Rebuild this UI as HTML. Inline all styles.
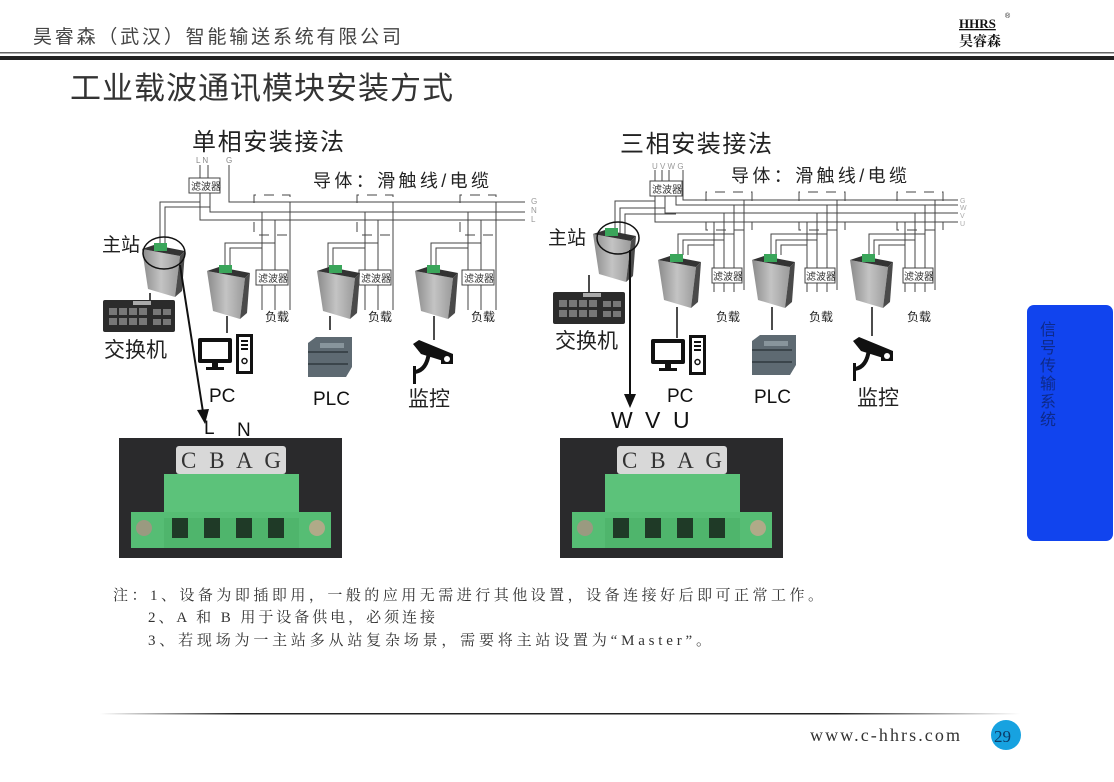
<!DOCTYPE html>
<html><head><meta charset="utf-8"><style>
html,body{margin:0;padding:0;background:#fff;width:1114px;height:782px;overflow:hidden}
svg{display:block}
text{font-family:"Liberation Sans","Noto Sans CJK SC",sans-serif}
.s{font-family:"Liberation Serif","Noto Serif CJK SC",serif}
</style></head><body>
<svg width="1114" height="782" viewBox="0 0 1114 782" xmlns="http://www.w3.org/2000/svg">
<defs>
<linearGradient id="gm" x1="0" x2="1" y1="0" y2="0"><stop offset="0" stop-color="#8a8a8a"/><stop offset="0.5" stop-color="#c4c4c4"/><stop offset="1" stop-color="#9a9a9a"/></linearGradient>
<linearGradient id="fl" x1="0" x2="1"><stop offset="0" stop-color="#fff"/><stop offset="0.15" stop-color="#222"/><stop offset="0.8" stop-color="#222"/><stop offset="1" stop-color="#fff"/></linearGradient>
<g id="dev">
<polygon points="0,6 38,13 33,54 6,46" fill="url(#gm)"/>
<polygon points="0,6 12,2 43,8 38,13" fill="#333"/>
<polygon points="38,13 43,8 40,48 33,54" fill="#4a4a4a"/>
<rect x="12" y="0" width="13" height="8" fill="#3aa55a"/>
</g>
<g id="photo">
<rect x="0" y="0" width="223" height="120" fill="#2a2a2c"/>
<rect x="57" y="8" width="110" height="28" rx="3" fill="#d8d8d8"/>
<text class="s" x="62" y="30" font-size="23" fill="#333" textLength="100">C B A G</text>
<rect x="45" y="36" width="135" height="44" fill="#5cc27a"/>
<rect x="12" y="74" width="200" height="36" fill="#56bd74"/>
<rect x="45" y="80" width="135" height="30" fill="#4fb56c"/>
<circle cx="25" cy="90" r="8" fill="#9a9a80"/><circle cx="198" cy="90" r="8" fill="#b0aa88"/>
<rect x="53" y="80" width="16" height="20" fill="#1f3a27"/><rect x="85" y="80" width="16" height="20" fill="#1f3a27"/>
<rect x="117" y="80" width="16" height="20" fill="#1f3a27"/><rect x="149" y="80" width="16" height="20" fill="#1f3a27"/>
</g>
<g id="sw">
<rect x="0" y="0" width="72" height="32" rx="2" fill="#2b2b2b"/>
<rect x="30" y="1" width="18" height="4" fill="#aaa"/>
<g fill="#777"><rect x="6" y="8" width="8" height="7"/><rect x="16" y="8" width="8" height="7"/><rect x="26" y="8" width="8" height="7"/><rect x="36" y="8" width="8" height="7"/><rect x="6" y="18" width="8" height="7"/><rect x="16" y="18" width="8" height="7"/><rect x="26" y="18" width="8" height="7"/><rect x="36" y="18" width="8" height="7"/><rect x="50" y="9" width="8" height="6"/><rect x="60" y="9" width="8" height="6"/><rect x="50" y="19" width="8" height="6"/><rect x="60" y="19" width="8" height="6"/></g>
</g>
<g id="pc">
<rect x="0" y="4" width="34" height="25" rx="2" fill="#111"/><rect x="4" y="8" width="26" height="17" fill="#fff"/>
<rect x="14" y="29" width="6" height="5" fill="#111"/><rect x="8" y="33" width="18" height="3" fill="#111"/>
<rect x="38" y="0" width="17" height="40" fill="#111"/><rect x="41" y="3" width="11" height="34" fill="#fff"/>
<g fill="#111"><rect x="43" y="6" width="7" height="2"/><rect x="43" y="10" width="7" height="2"/><rect x="43" y="14" width="7" height="2"/></g>
<circle cx="46.5" cy="27" r="2.5" fill="none" stroke="#111" stroke-width="1.5"/>
</g>
<g id="plc">
<polygon points="0,6 8,0 44,0 44,30 38,40 0,40" fill="#5e6a72"/>
<rect x="0" y="14" width="40" height="2" fill="#3b454b"/><rect x="0" y="26" width="40" height="2" fill="#3b454b"/>
<rect x="12" y="6" width="24" height="5" fill="#88959c"/>
</g>
<g id="cam">
<polygon points="0,4 6,0 40,14 40,24 8,14" fill="#111"/>
<rect x="28" y="14" width="12" height="10" fill="#111"/><circle cx="34" cy="19" r="3" fill="#fff"/>
<path d="M16 12 Q14 30 2 32" fill="none" stroke="#111" stroke-width="4"/>
<rect x="0" y="26" width="3" height="18" fill="#111"/>
</g>
</defs>

<!-- header -->
<text x="33" y="43" font-size="19" fill="#444" textLength="368">昊睿森（武汉）智能输送系统有限公司</text>
<text class="s" x="959" y="28" font-size="13" font-weight="bold" fill="#111" text-decoration="underline">HHRS</text>
<text x="1005" y="18" font-size="7" fill="#111">®</text>
<text class="s" x="959" y="46" font-size="14" font-weight="bold" fill="#111">昊睿森</text>
<rect x="0" y="52" width="1114" height="1.5" fill="#666"/>
<rect x="0" y="56" width="1114" height="4" fill="#222"/>
<text x="70" y="99" font-size="31" fill="#333" textLength="383">工业载波通讯模块安装方式</text>

<!-- LEFT DIAGRAM -->
<g fill="none" stroke="#444" stroke-width="1">
<text x="192" y="150" font-size="24" fill="#222" stroke="none" textLength="152">单相安装接法</text>
<text x="196" y="163" font-size="8" fill="#888" stroke="none">L N</text>
<text x="226" y="163" font-size="8" fill="#888" stroke="none">G</text>
<text x="313" y="187" font-size="18" fill="#222" stroke="none" textLength="176">导体：滑触线/电缆</text>
<line x1="200" y1="165" x2="200" y2="178"/><line x1="208" y1="165" x2="208" y2="178"/>
<polyline points="229,165 229,202 525,202"/>
<rect x="189" y="178" width="31" height="15" fill="#fff"/>
<text x="191" y="190" font-size="10" fill="#333" stroke="none">滤波器</text>
<polyline points="210,193 210,212 525,212"/>
<polyline points="200,193 200,220 525,220"/>
<polyline points="160,245 160,202 200,202"/>
<polyline points="165,245 165,207 210,207"/>
<text x="531" y="204" font-size="8" fill="#999" stroke="none">G</text>
<text x="531" y="213" font-size="8" fill="#999" stroke="none">N</text>
<text x="531" y="222" font-size="8" fill="#999" stroke="none">L</text>
<!-- groups -->
<g id="gl">
<polyline points="254,203 254,195 290,195 290,203" stroke-dasharray="10,8"/>
<polyline points="254,222 254,235 290,235 290,222" stroke-dasharray="10,8"/>
<line x1="262" y1="212" x2="262" y2="270"/><line x1="275" y1="220" x2="275" y2="270"/><line x1="290" y1="202" x2="290" y2="310"/>
<polyline points="225,268 225,243 275,243"/><polyline points="230,268 230,248 262,248"/>
<rect x="256" y="270" width="32" height="15" fill="#fff"/>
<text x="258" y="282" font-size="10" fill="#333" stroke="none">滤波器</text>
<line x1="262" y1="285" x2="262" y2="310"/><line x1="275" y1="285" x2="275" y2="310"/>
<text x="265" y="321" font-size="12" fill="#222" stroke="none">负载</text>
</g>
<use href="#gl" x="103"/><use href="#gl" x="206"/>
</g>
<text x="102" y="251" font-size="19" fill="#222">主站</text>
<use href="#dev" x="142" y="243"/>
<ellipse cx="164" cy="253" rx="21" ry="16" fill="none" stroke="#111" stroke-width="1.5"/>
<line x1="150" y1="293" x2="150" y2="302" stroke="#111" stroke-width="1.5"/>
<use href="#sw" x="103" y="300"/>
<text x="104" y="357" font-size="21" fill="#222">交换机</text>
<line x1="180" y1="265" x2="203" y2="412" stroke="#111" stroke-width="2"/>
<polygon points="197,410 209,409 205,424" fill="#111"/>
<use href="#dev" x="207" y="265"/><use href="#dev" x="317" y="265"/><use href="#dev" x="415" y="265"/>
<line x1="227" y1="316" x2="227" y2="333" stroke="#111" stroke-width="1.5"/>
<line x1="330" y1="316" x2="330" y2="330" stroke="#111" stroke-width="1.5"/>
<line x1="434" y1="316" x2="434" y2="340" stroke="#111" stroke-width="1.5"/>
<use href="#pc" x="198" y="334"/>
<use href="#plc" x="308" y="337"/>
<use href="#cam" x="413" y="340"/>
<text x="209" y="402" font-size="19" fill="#111">PC</text>
<text x="313" y="405" font-size="19" fill="#111">PLC</text>
<text x="408" y="406" font-size="21" fill="#222">监控</text>
<text x="204" y="434" font-size="19" fill="#111">L</text>
<text x="237" y="436" font-size="19" fill="#111">N</text>
<use href="#photo" x="119" y="438"/>

<!-- RIGHT DIAGRAM -->
<g fill="none" stroke="#444" stroke-width="1">
<text x="620" y="152" font-size="24" fill="#222" stroke="none" textLength="152">三相安装接法</text>
<text x="652" y="169" font-size="8" fill="#999" stroke="none">U V W G</text>
<text x="731" y="182" font-size="18" fill="#222" stroke="none" textLength="176">导体：滑触线/电缆</text>
<line x1="655" y1="170" x2="655" y2="181"/><line x1="662" y1="170" x2="662" y2="181"/><line x1="669" y1="170" x2="669" y2="181"/>
<polyline points="683,170 683,200 958,200"/>
<rect x="650" y="181" width="32" height="15" fill="#fff"/>
<text x="652" y="193" font-size="10" fill="#333" stroke="none">滤波器</text>
<polyline points="676,196 676,205 958,205"/>
<polyline points="665,196 665,213 958,213"/>
<polyline points="655,196 655,222 958,222"/>
<polyline points="615,236 615,201 655,201"/>
<polyline points="620,236 620,208 665,208"/>
<polyline points="625,236 625,214 676,214"/>
<text x="960" y="203" font-size="7" fill="#aaa" stroke="none">G</text>
<text x="960" y="210" font-size="7" fill="#aaa" stroke="none">W</text>
<text x="960" y="218" font-size="7" fill="#aaa" stroke="none">V</text>
<text x="960" y="226" font-size="7" fill="#aaa" stroke="none">U</text>
<g id="gr">
<polyline points="706,201 706,192 752,192 752,201" stroke-dasharray="10,8"/>
<polyline points="706,222 706,230 752,230 752,222" stroke-dasharray="10,8"/>
<line x1="714" y1="222" x2="714" y2="268"/><line x1="724" y1="213" x2="724" y2="268"/><line x1="734" y1="205" x2="734" y2="268"/><line x1="744" y1="200" x2="744" y2="290"/>
<polyline points="678,255 678,234 734,234"/><polyline points="683,255 683,240 724,240"/><polyline points="688,255 688,245 714,245"/>
<rect x="712" y="268" width="30" height="15" fill="#fff"/>
<text x="713" y="280" font-size="10" fill="#333" stroke="none">滤波器</text>
<line x1="714" y1="283" x2="714" y2="292"/><line x1="724" y1="283" x2="724" y2="292"/><line x1="734" y1="283" x2="734" y2="292"/>
<text x="716" y="321" font-size="12" fill="#222" stroke="none">负载</text>
</g>
<use href="#gr" x="93"/><use href="#gr" x="191"/>
</g>
<text x="548" y="244" font-size="19" fill="#222">主站</text>
<use href="#dev" x="593" y="228"/>
<ellipse cx="618" cy="238" rx="21" ry="16" fill="none" stroke="#111" stroke-width="1.5"/>
<line x1="589" y1="275" x2="589" y2="292" stroke="#111" stroke-width="1.5"/>
<use href="#sw" x="553" y="292"/>
<text x="555" y="348" font-size="21" fill="#222">交换机</text>
<line x1="630" y1="250" x2="630" y2="395" stroke="#111" stroke-width="2"/>
<polygon points="624,394 636,394 630,408" fill="#111"/>
<use href="#dev" x="658" y="254"/><use href="#dev" x="752" y="254"/><use href="#dev" x="850" y="254"/>
<line x1="677" y1="307" x2="677" y2="338" stroke="#111" stroke-width="1.5"/>
<line x1="772" y1="307" x2="772" y2="330" stroke="#111" stroke-width="1.5"/>
<line x1="872" y1="307" x2="872" y2="336" stroke="#111" stroke-width="1.5"/>
<use href="#pc" x="651" y="335"/>
<use href="#plc" x="752" y="335"/>
<use href="#cam" x="853" y="337"/>
<text x="667" y="402" font-size="19" fill="#111">PC</text>
<text x="754" y="403" font-size="19" fill="#111">PLC</text>
<text x="857" y="405" font-size="21" fill="#222">监控</text>
<text x="611" y="428" font-size="23" fill="#111">W</text>
<text x="645" y="428" font-size="23" fill="#111">V</text>
<text x="673" y="428" font-size="23" fill="#111">U</text>
<use href="#photo" x="560" y="438"/>

<!-- notes -->
<g class="s" font-size="15" fill="#333">
<text class="s" x="113" y="600" textLength="710">注：1、设备为即插即用，一般的应用无需进行其他设置，设备连接好后即可正常工作。</text>
<text class="s" x="148" y="622" textLength="287">2、A 和 B 用于设备供电，必须连接</text>
<text class="s" x="148" y="645" textLength="563">3、若现场为一主站多从站复杂场景，需要将主站设置为“Master”。</text>
</g>

<!-- side tab -->
<rect x="1027" y="305" width="86" height="236" rx="7" fill="#1144ee"/>
<g font-size="16" fill="#0d2a8a">
<text x="1040" y="335">信</text><text x="1040" y="353">号</text><text x="1040" y="371">传</text><text x="1040" y="389">输</text><text x="1040" y="407">系</text><text x="1040" y="425">统</text>
</g>

<!-- footer -->
<rect x="100" y="713" width="920" height="1.5" fill="url(#fl)"/>
<text class="s" x="810" y="741" font-size="18" fill="#333" textLength="150">www.c-hhrs.com</text>
<circle cx="1006" cy="735" r="15" fill="#17a2e0"/>
<text class="s" x="994" y="742" font-size="17" fill="#0b3a66">29</text>
</svg>
</body></html>
